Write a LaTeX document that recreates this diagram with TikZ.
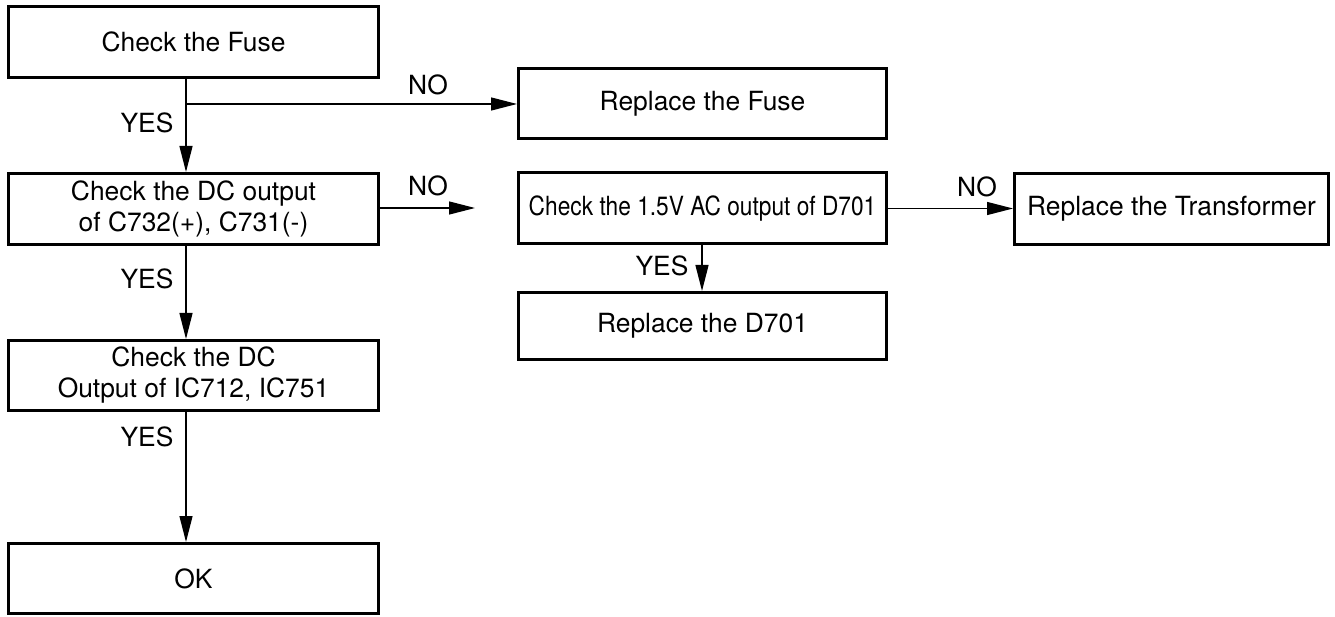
\documentclass[tikz,border=0pt]{standalone}
\usepackage{fontspec}
\setmainfont{TeX Gyre Heros}
\usetikzlibrary{arrows.meta}
\begin{document}
\begin{tikzpicture}[x=1pt,y=-1pt,
  box/.style={draw, line width=3pt, inner sep=0pt, align=center,
    font=\fontsize{26.4}{31}\selectfont},
  conn/.style={line width=1.3pt, -{Triangle[length=26pt,width=13pt]}},
  lbl/.style={inner sep=0pt, font=\fontsize{26.4}{31}\selectfont}]
\useasboundingbox (0,0) rectangle (1335,617);
\node[box, minimum width=370pt, minimum height=71pt] (fuse) at (193.5,42) {Check the Fuse};
\node[box, minimum width=368pt, minimum height=70pt] (rfuse) at (702.5,103.5) {Replace the Fuse};
\node[box, minimum width=370pt, minimum height=71pt] (dc) at (193.5,209) {Check the DC output\\of C732(+), C731(-)};
\node[box, minimum width=368pt, minimum height=71pt] (ac) at (702.5,208.5) {\scalebox{0.86}[1]{Check the 1.5V AC output of D701}};
\node[box, minimum width=314pt, minimum height=71pt] (tr) at (1171.5,209) {Replace the Transformer};
\node[box, minimum width=368pt, minimum height=67pt] (rd) at (702.5,326) {Replace the D701};
\node[box, minimum width=370pt, minimum height=70pt] (ic) at (193.5,375.5) {Check the DC\\Output of IC712, IC751};
\node[box, minimum width=370pt, minimum height=70pt] (ok) at (193.5,578.5) {OK};
\coordinate (b1) at (186,104);
\coordinate (e1) at (475,208);
\coordinate (cx) at (186,0);
\draw[line width=1.3pt] (fuse.south -| cx) -- (b1);
\draw[conn] (b1) -- (dc.north -| cx);
\draw[conn] (b1) -- (rfuse.west |- b1);
\draw[conn] (dc.east |- e1) -- (e1);
\draw[conn] (ac.east) -- (tr.west |- ac.east);
\draw[conn] (ac.south -| 702,0) -- (rd.north -| 702,0);
\draw[conn] (dc.south -| cx) -- (ic.north -| cx);
\draw[conn] (ic.south -| cx) -- (ok.north -| cx);
\node[lbl] (no1) at (428,85) {NO};
\node[lbl] (no2) at (428,186) {NO};
\node[lbl] (no3) at (977,187) {NO};
\node[lbl] (yes1) at (147,123) {YES};
\node[lbl] (yes2) at (147,279) {YES};
\node[lbl] (yes3) at (147,437) {YES};
\node[lbl] (yes4) at (662,266) {YES};
\end{tikzpicture}
\end{document}
